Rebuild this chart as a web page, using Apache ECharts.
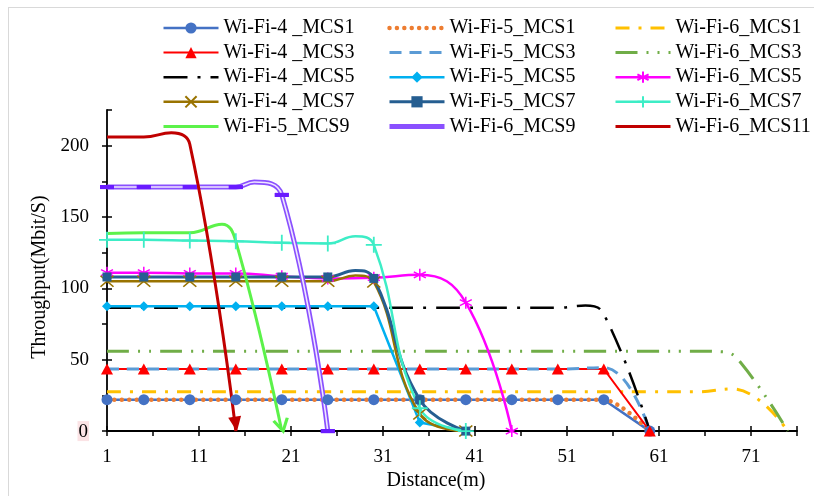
<!DOCTYPE html>
<html>
<head>
<meta charset="utf-8">
<script src="https://cdn.jsdelivr.net/npm/echarts@6/dist/echarts.min.js"></script>
<style>
  html, body { margin: 0; padding: 0; background: #fff; }
  #grafica { width: 814px; height: 496px; }
</style>
</head>
<body>
<div id="grafica"></div>
<script>
// distancias (m) donde van los marcadores
const distMarcas = [1, 5, 10, 15, 20, 25, 30, 35, 40, 45, 50, 55, 60, 65, 70, 75];

// cada serie: distancias y throughput (Mbit/s)
const x4Mcs1 = [1, 5, 10, 15, 20, 25, 30, 35, 40, 45, 50, 55, 60];
const y4Mcs1 = [22, 22, 22, 22, 22, 22, 22, 22, 22, 22, 22, 22, 0];
const x5Mcs1 = [1, 5, 10, 15, 20, 25, 30, 35, 40, 45, 50, 55, 60];
const y5Mcs1 = [22, 22, 22, 22, 22, 22, 22, 22, 22, 22, 22, 22, 0];
const x6Mcs1 = [1, 5, 10, 15, 20, 25, 30, 35, 40, 45, 50, 55, 60, 65, 69, 75];
const y6Mcs1 = [27.5, 27.5, 27.5, 27.5, 27.5, 27.5, 27.5, 27.5, 27.5, 27.5, 27.5, 27.5, 27.5, 27.5, 29.5, 0];

const x4Mcs3 = [1, 5, 10, 15, 20, 25, 30, 35, 40, 45, 50, 55, 60];
const y4Mcs3 = [43.5, 43.5, 43.5, 43.5, 43.5, 43.5, 43.5, 43.5, 43.5, 43.5, 43.5, 43.5, 0];
const x5Mcs3 = [1, 5, 10, 15, 20, 25, 30, 35, 40, 45, 50, 55, 60];
const y5Mcs3 = [43.5, 43.5, 43.5, 43.5, 43.5, 43.5, 43.5, 43.5, 43.5, 43.5, 43.5, 44.5, 0];
const x6Mcs3 = [1, 5, 10, 15, 20, 25, 30, 35, 40, 45, 50, 55, 60, 65, 68, 70, 75];
const y6Mcs3 = [56, 56, 56, 56, 56, 56, 56, 56, 56, 56, 56, 56, 56, 56, 55.5, 47, 0];

const x4Mcs5 = [1, 5, 10, 15, 20, 25, 30, 35, 40, 45, 50, 53, 55, 60];
const y4Mcs5 = [86.5, 86.5, 86.5, 86.5, 86.5, 86.5, 86.5, 86.5, 86.5, 86.5, 86.5, 88, 82, 0];
const x5Mcs5 = [1, 5, 10, 15, 20, 25, 30, 35, 40];
const y5Mcs5 = [87.5, 87.5, 87.5, 87.5, 87.5, 87.5, 87.5, 6, 0];
const x6Mcs5 = [1, 5, 10, 15, 20, 25, 30, 35, 40, 45];
const y6Mcs5 = [111, 111, 110.5, 110.5, 108.5, 107, 107.5, 109.5, 90, 0];

const x4Mcs7 = [1, 5, 10, 15, 20, 25, 28, 30, 35, 40];
const y4Mcs7 = [105, 105, 105, 105, 105, 105, 109, 104.5, 12, 0];
const x5Mcs7 = [1, 5, 10, 15, 20, 25, 28, 30, 35, 40];
const y5Mcs7 = [108, 108, 108, 108, 108, 108, 112.5, 107, 22, 0];
const x6Mcs7 = [1, 5, 10, 15, 20, 25, 28, 30, 35, 40];
const y6Mcs7 = [134, 134, 133.5, 133, 132, 131.5, 136.5, 130.5, 16, 0];

const x5Mcs9 = [1, 5, 10, 13.5, 15, 20];
const y5Mcs9 = [138.5, 139, 139, 145, 133, 0];
const x6Mcs9 = [1, 5, 10, 15, 17, 20, 25];
const y6Mcs9 = [171, 171, 171, 171, 174.5, 165.5, 0];
const x6Mcs11 = [1, 5, 8, 10, 15];
const y6Mcs11 = [206, 206, 209, 201, 0];

// ejes
const distMin = 1, distMax = 76;
const thrMin = 0, thrMax = 225;

const F = 'Liberation Serif, Times New Roman, serif';

const symAsterisco = 'path://M6,0L6,12M0.8,3L11.2,9M0.8,9L11.2,3';
const symEquis = 'path://M0,0L12,10M0,10L12,0';
const symMas = 'path://M8,0L8,16M0,8L16,8';
const symFlechaAbierta = 'path://M0,0L6,10L12,0';

// en la leyenda solo la linea para estas series
const sinMarca = ['Wi-Fi-5_MCS1', 'Wi-Fi-6_MCS1', 'Wi-Fi-5_MCS3', 'Wi-Fi-6_MCS3', 'Wi-Fi-4 _MCS5', 'Wi-Fi-5_MCS9', 'Wi-Fi-6_MCS9', 'Wi-Fi-6_MCS11'];

function puntos(xs, ys, conMarcas) {
  return xs.map(function (x, i) {
    const item = { value: [x, ys[i]] };
    if (conMarcas && distMarcas.indexOf(x) < 0) item.symbol = 'none';
    return item;
  });
}

function serie(nombre, xs, ys, color, o) {
  const conMarcas = !!o.symbol;
  const data = puntos(xs, ys, conMarcas);
  if (o.fin) Object.assign(data[data.length - 1], o.fin);
  return {
    name: nombre,
    type: 'line',
    data: data,
    color: color,
    smooth: o.smooth === undefined ? 0.45 : o.smooth,
    symbol: o.symbol || 'none',
    symbolSize: o.size || 10,
    showSymbol: true,
    clip: false,
    legendHoverLink: false,
    emphasis: { disabled: true },
    lineStyle: { color: color, width: o.width || 2.5, type: o.dash || 'solid', cap: o.cap || 'butt' },
    itemStyle: { color: o.fill || color, borderColor: o.border || color, borderWidth: o.bw || 0 },
    z: o.z || 2
  };
}

const series = [
  serie('Wi-Fi-4 _MCS1', x4Mcs1, y4Mcs1, '#4472C4', { symbol: 'circle', size: 11, width: 2.5, smooth: false }),
  serie('Wi-Fi-5_MCS1', x5Mcs1, y5Mcs1, '#ED7D31', { width: 4.5, dash: [0.01, 7.4], cap: 'round', smooth: 0.3 }),
  serie('Wi-Fi-6_MCS1', x6Mcs1, y6Mcs1, '#FFC000', { width: 3, dash: [14, 9, 3, 9] }),
  serie('Wi-Fi-4 _MCS3', x4Mcs3, y4Mcs3, '#FF0000', { symbol: 'triangle', size: [12, 11], width: 2, smooth: false }),
  serie('Wi-Fi-5_MCS3', x5Mcs3, y5Mcs3, '#5B9BD5', { width: 3, dash: [12, 8] }),
  serie('Wi-Fi-6_MCS3', x6Mcs3, y6Mcs3, '#70AD47', { width: 3, dash: [22, 9, 2, 9, 2, 9] }),
  serie('Wi-Fi-4 _MCS5', x4Mcs5, y4Mcs5, '#000000', { width: 2.5, dash: [24, 10, 3, 10] }),
  serie('Wi-Fi-5_MCS5', x5Mcs5, y5Mcs5, '#00B0F0', { symbol: 'diamond', size: 10, width: 2.5, smooth: false }),
  serie('Wi-Fi-6_MCS5', x6Mcs5, y6Mcs5, '#FF00FF', { symbol: symAsterisco, size: 12, bw: 1.5, width: 2.5 }),
  serie('Wi-Fi-4 _MCS7', x4Mcs7, y4Mcs7, '#997300', { symbol: symEquis, size: [13, 11], bw: 1.5, width: 2.5 }),
  serie('Wi-Fi-5_MCS7', x5Mcs7, y5Mcs7, '#255E91', { symbol: 'rect', size: 9, width: 3 }),
  serie('Wi-Fi-6_MCS7', x6Mcs7, y6Mcs7, '#3DEDC6', { symbol: symMas, size: 16, bw: 1.8, width: 2.5 }),
  serie('Wi-Fi-5_MCS9', x5Mcs9, y5Mcs9, '#5CF24A', {
    width: 3,
    fin: { symbol: symFlechaAbierta, symbolSize: [14, 12], symbolRotate: 13, symbolOffset: [0, -6],
           itemStyle: { color: 'none', borderColor: '#5CF24A', borderWidth: 3 } }
  }),
  serie('Wi-Fi-6_MCS9', x6Mcs9, y6Mcs9, '#8A50FF', { symbol: 'rect', size: [14, 4], fill: '#6A1BFF', width: 5 }),
  // linea interior (doble linea)
  serie('mcs9Interior', x6Mcs9, y6Mcs9, '#EFE6FF', { symbol: 'rect', size: [14, 4], fill: '#6A1BFF', width: 1.6 }),
  serie('Wi-Fi-6_MCS11', x6Mcs11, y6Mcs11, '#C00000', {
    width: 3,
    fin: { symbol: 'triangle', symbolSize: [13, 15], symbolRotate: 189, symbolOffset: [0, -7] }
  })
];

function leyenda(left, nombres) {
  return {
    orient: 'vertical',
    left: left,
    top: 13,
    itemWidth: 55,
    itemHeight: 14,
    itemGap: 4.6,
    selectedMode: false,
    data: nombres.map(function (n) {
      return sinMarca.indexOf(n) >= 0 ? { name: n, itemStyle: { opacity: 0 } } : { name: n };
    }),
    lineStyle: { width: 'inherit' },
    textStyle: { fontFamily: F, fontSize: 20, color: '#000', lineHeight: 20 }
  };
}

const myChart = echarts.init(document.getElementById('grafica'));

const option = {
  animation: false,
  backgroundColor: '#fff',
  legend: [
    leyenda(157, ['Wi-Fi-4 _MCS1', 'Wi-Fi-4 _MCS3', 'Wi-Fi-4 _MCS5', 'Wi-Fi-4 _MCS7', 'Wi-Fi-5_MCS9']),
    leyenda(382, ['Wi-Fi-5_MCS1', 'Wi-Fi-5_MCS3', 'Wi-Fi-5_MCS5', 'Wi-Fi-5_MCS7', 'Wi-Fi-6_MCS9']),
    leyenda(609, ['Wi-Fi-6_MCS1', 'Wi-Fi-6_MCS3', 'Wi-Fi-6_MCS5', 'Wi-Fi-6_MCS7', 'Wi-Fi-6_MCS11'])
  ],
  grid: { left: 107, right: 17, top: 110, bottom: 55, containLabel: false },
  xAxis: [
    {
      type: 'value', min: distMin, max: distMax, interval: 5,
      name: 'Distance(m)', nameLocation: 'middle', nameGap: 31,
      nameTextStyle: { fontFamily: F, fontSize: 20, color: '#000', padding: [0, 32, 0, 0] },
      axisLine: { show: true, onZero: false, lineStyle: { color: '#000', width: 1.8 } },
      axisTick: { show: true, length: 5, lineStyle: { color: '#000', width: 1.5 } },
      axisLabel: {
        margin: 16, interval: 0, fontFamily: F, fontSize: 19, color: '#000',
        formatter: function (v) { return (v - 1) % 10 === 0 ? String(v) : ''; }
      },
      splitLine: { show: false }
    },
    {
      type: 'value', min: distMin, max: distMax, interval: 10, position: 'bottom',
      axisLine: { show: false, onZero: false },
      axisTick: { show: true, inside: true, length: 5, lineStyle: { color: '#000', width: 1.5 } },
      axisLabel: { show: false },
      splitLine: { show: false }
    }
  ],
  yAxis: [
    {
      type: 'value', min: thrMin, max: thrMax, interval: 25,
      name: 'Throughput(Mbit/S)', nameLocation: 'middle', nameGap: 56, nameRotate: 90,
      nameTextStyle: { fontFamily: F, fontSize: 20, color: '#000', padding: [0, 13, 0, 0] },
      axisLine: { show: true, lineStyle: { color: '#000', width: 1.8 } },
      axisTick: { show: true, length: 5, lineStyle: { color: '#000', width: 1.5 } },
      axisLabel: {
        margin: 18, fontFamily: F, fontSize: 19, color: '#000', showMaxLabel: false,
        formatter: function (v) {
          if (v % 50 !== 0) return '';
          return v === 0 ? '{cero|0}' : String(v);
        },
        rich: { cero: { backgroundColor: '#FBE3E5', padding: [1, 1, 0, 1], fontFamily: F, fontSize: 19, color: '#000' } }
      },
      splitLine: { show: false }
    },
    {
      type: 'value', min: thrMin, max: thrMax, interval: 50, position: 'left',
      axisLine: { show: false },
      axisTick: { show: true, inside: true, length: 5, lineStyle: { color: '#000', width: 1.5 } },
      axisLabel: { show: false },
      splitLine: { show: false }
    }
  ],
  graphic: [
    { type: 'line', shape: { x1: 8, y1: 7.5, x2: 814, y2: 7.5 }, style: { stroke: '#D9D9D9', lineWidth: 1 }, silent: true },
    { type: 'line', shape: { x1: 8.5, y1: 7, x2: 8.5, y2: 496 }, style: { stroke: '#D9D9D9', lineWidth: 1 }, silent: true }
  ],
  series: series
};

myChart.setOption(option);
</script>
</body>
</html>
